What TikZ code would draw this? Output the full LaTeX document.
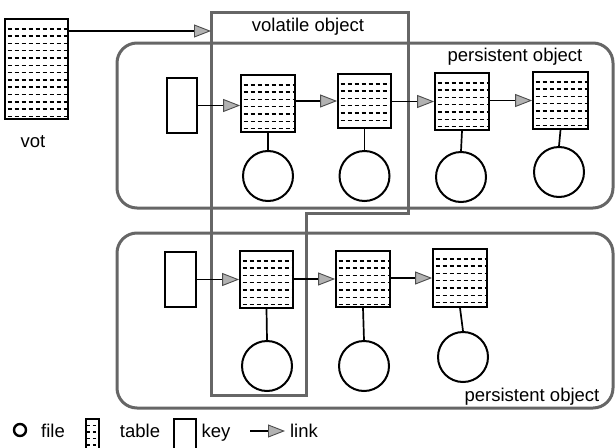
\documentclass[tikz,border=0pt]{standalone}
\usepackage{fontspec}
\setmainfont{Liberation Sans}
\usetikzlibrary{arrows.meta}
\tikzset{
  objline/.style={draw=black!60, line width=3pt},
  tablebox/.style={draw=black, line width=1.8pt, fill=white, inner sep=0pt,
    path picture={\foreach \i in {1,...,14}
      \draw[black, line width=1.5pt, dash pattern=on 4pt off 3pt]
        ([yshift=-\i*7.3pt-2.5pt, xshift=2.5pt]path picture bounding box.north west) --
        ([yshift=-\i*7.3pt-2.5pt]path picture bounding box.north east);}},
  keybox/.style={draw=black, line width=1.8pt, fill=white, inner sep=0pt},
  filecirc/.style={circle, draw=black, line width=2pt, minimum size=50pt, inner sep=0pt},
  link/.style={draw=black, line width=1.5pt,
    -{Triangle[length=17pt,width=13pt,fill=gray!60,color=black!70,line width=0.9pt]}},
  stem/.style={draw=black, line width=1.7pt},
  lbl/.style={font=\fontsize{18.5}{20}\selectfont, inner sep=0pt}
}
\begin{document}
\begin{tikzpicture}[x=1pt,y=-1pt]
\useasboundingbox (0,0) rectangle (615,447);
% persistent objects
\draw[objline, rounded corners=20pt] (117,43) rectangle (613,208);
\draw[objline, rounded corners=20pt] (117,233) rectangle (613,408);
% volatile object
\draw[objline] (211,12) -- (408,12) -- (408,213) -- (306,213) -- (306,395) -- (211,395) -- cycle;
\node[lbl] (vollbl) at (308,27) {volatile object};
\node[lbl] (p1lbl) at (515,57) {persistent object};
\node[lbl] (p2lbl) at (532,397) {persistent object};
% vot
\node[tablebox, minimum width=63pt, minimum height=100pt] (vot) at (36.5,69) {};
\node[lbl, anchor=base] (votlbl) at (33,147) {vot};
\coordinate (volin) at (211,31);
\draw[link] (vot.north east |- volin) -- (volin);
% top row
\node[keybox, minimum width=30pt, minimum height=55pt] (k1) at (182,105.5) {};
\node[tablebox, minimum width=54pt, minimum height=57pt] (a1) at (268,103.5) {};
\node[tablebox, minimum width=53pt, minimum height=54pt] (a2) at (364.5,101) {};
\node[tablebox, minimum width=54pt, minimum height=57pt] (a3) at (462,101.5) {};
\node[tablebox, minimum width=55pt, minimum height=57pt] (a4) at (560.5,100.5) {};
\node[filecirc] (f1) at (268,176) {};
\node[filecirc] (f2) at (364.5,176) {};
\node[filecirc] (f3) at (461,177) {};
\node[filecirc] (f4) at (559,172) {};
\draw[link] (k1.east) -- (k1.east -| a1.west);
\draw[link] (a1.east |- a2.west) -- (a2.west);
\draw[link] (a2.east |- a3.west) -- (a3.west);
\draw[link] (a3.east |- a4.west) -- (a4.west);
\foreach \t/\f in {a1/f1,a2/f2,a3/f3,a4/f4} \draw[stem] (\t.south) -- (\f.north);
% bottom row
\node[keybox, minimum width=31pt, minimum height=55pt] (k2) at (180.5,279.5) {};
\node[tablebox, minimum width=53pt, minimum height=57pt] (b1) at (266.5,279.5) {};
\node[tablebox, minimum width=54pt, minimum height=56pt] (b2) at (363,279) {};
\node[tablebox, minimum width=54pt, minimum height=58pt] (b3) at (460,278) {};
\node[filecirc] (g1) at (267,366) {};
\node[filecirc] (g2) at (364,366) {};
\node[filecirc] (g3) at (463,357) {};
\draw[link] (k2.east) -- (k2.east -| b1.west);
\draw[link] (b1.east |- b2.west) -- (b2.west);
\draw[link] (b2.east |- b3.west) -- (b3.west);
\foreach \t/\f in {b1/g1,b2/g2,b3/g3} \draw[stem] (\t.south) -- (\f.north);
% legend
\node[circle, draw=black, line width=2.4pt, minimum size=12pt, inner sep=0pt] (lfile) at (20,430) {};
\node[lbl, anchor=base] (lfiletxt) at (53,437) {file};
\node[tablebox, minimum width=13pt, minimum height=34pt, anchor=north west,
  path picture={\foreach \i in {1,...,5}
      \draw[black, line width=1.3pt, dash pattern=on 3pt off 2.5pt]
        ([yshift=-\i*6.5pt, xshift=1.5pt]path picture bounding box.north west) --
        ([yshift=-\i*6.5pt]path picture bounding box.north east);}] (ltable) at (85,418) {};
\node[lbl, anchor=base] (ltabletxt) at (140,437) {table};
\node[keybox, minimum width=22pt, minimum height=34pt, anchor=north west] (lkey) at (173,418) {};
\node[lbl, anchor=base] (lkeytxt) at (216,437) {key};
\coordinate (llinka) at (250,431);
\coordinate (llinkb) at (285,431);
\draw[link] (llinka) -- (llinkb);
\node[lbl, anchor=base] (llinktxt) at (304,437) {link};
\end{tikzpicture}
\end{document}
